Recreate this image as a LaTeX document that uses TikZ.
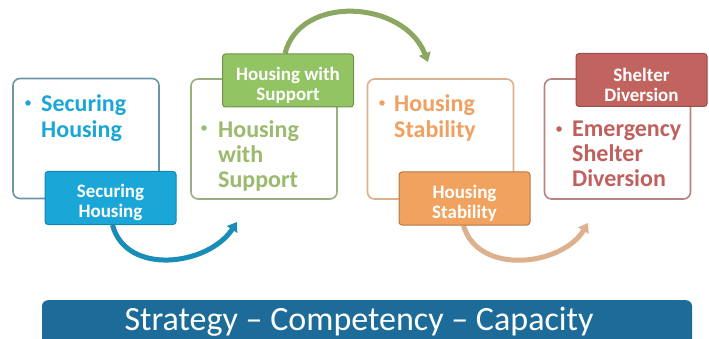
\documentclass[tikz,border=0pt]{standalone}
\usepackage{fontspec}
\setmainfont{Carlito}
\usetikzlibrary{positioning,arrows.meta,backgrounds}

\definecolor{secblue}{HTML}{1BA6D8}
\definecolor{secline}{HTML}{6C96A8}
\definecolor{supgreen}{HTML}{9BBA6C}
\definecolor{supfill}{HTML}{92C464}
\definecolor{supline}{HTML}{9AAE84}
\definecolor{stborange}{HTML}{F0A060}
\definecolor{stbfill}{HTML}{F0A25E}
\definecolor{stbline}{HTML}{DDB08E}
\definecolor{divred}{HTML}{C0605D}
\definecolor{divfill}{HTML}{C1635F}
\definecolor{divline}{HTML}{B88482}
\definecolor{barblue}{HTML}{1C6B98}

\tikzset{
  panel/.style={draw, line width=1.6pt, rounded corners=7pt, fill=white,
    minimum width=146pt, minimum height=120pt, inner sep=0pt},
  tag/.style={draw, line width=1pt, rounded corners=3pt,
    minimum width=131pt, minimum height=53pt, inner sep=0pt},
  tagtext/.style={text=white, font=\bfseries\fontsize{19}{20}\selectfont,
    align=center, inner sep=0pt},
  body/.style={font=\bfseries\fontsize{24}{25.5}\selectfont, align=left,
    anchor=base west, inner sep=0pt},
  dotbul/.style={circle, inner sep=0pt, minimum size=5.5pt},
  flow/.style={line width=5pt, -{Triangle[length=9pt, width=12pt]}}
}

\begin{document}
\begin{tikzpicture}[x=1pt, y=-1pt]
      \useasboundingbox (0,0) rectangle (709,339);
      % Define nodes
      \node[panel, draw=secline] (p1) at (86,138.5) {};
      \node[panel, draw=supline] (p2) at (264,139) {};
      \node[panel, draw=stbline] (p3) at (440.5,139) {};
      \node[panel, draw=divline] (p4) at (617.5,139) {};
      \node[dotbul, fill=secblue] (d1) at (28,103) {};
      \node[dotbul, fill=supgreen] (d2) at (204,128) {};
      \node[dotbul, fill=stborange] (d3) at (382,103) {};
      \node[dotbul, fill=divred] (d4) at (559,129) {};
      \node[body, text=secblue] (t1) at (41,137.5) {Securing\\Housing};
      \node[body, text=supgreen] (t2) at (218,188) {Housing\\with\\Support};
      \node[body, text=stborange] (t3) at (394,137.5) {Housing\\Stability};
      \node[body, text=divred] (t4) at (572,187) {Emergency\\Shelter\\Diversion};
      \coordinate (e1) at (237,222);
      \coordinate (e2) at (428,62);
      \coordinate (e3) at (588,223);
      \node[tag, fill=secblue, draw=secblue!80!black] (g1) at (110.5,198) {};
      \node[tag, fill=supfill, draw=supfill!75!black] (g2) at (288,80.5) {};
      \node[tag, fill=stbfill, draw=stbfill!75!black] (g3) at (464.5,198.5) {};
      \node[tag, fill=divfill, draw=divfill!80!black] (g4) at (641.5,80) {};
      \node[tagtext] (l1) at ([yshift=-4.5pt]g1.center) {Securing\\Housing};
      \node[tagtext] (l2) at ([yshift=-4.5pt]g2.center) {Housing with\\Support};
      \node[tagtext] (l3) at ([yshift=-4.5pt]g3.center) {Housing\\Stability};
      \node[tagtext] (l4) at ([yshift=-4.5pt]g4.center) {Shelter\\Diversion};
      \node[fill=barblue, rounded corners=6pt, minimum width=650pt,
        minimum height=50pt, anchor=north] (bar) at (367,300) {};
      \node[text=white, font=\fontsize{34}{36}\selectfont, anchor=base,
        inner sep=0pt] (title) at (359,330) {Strategy -- Competency -- Capacity};
      % Connect nodes
      \begin{scope}[on background layer]
      \draw[flow, draw=secblue!85!black]
        ([xshift=2pt]g1.south) .. controls (126,276) and (208,266) .. (e1);
      \draw[flow, draw=supgreen!90!black]
        ([xshift=-3pt]g2.north) .. controls (300,-6) and (404,0) .. (e2);
      \draw[flow, draw=stbline]
        ([xshift=-1pt]g3.south) .. controls (478,276) and (562,266) .. (e3);
      \end{scope}
\end{tikzpicture}
\end{document}
